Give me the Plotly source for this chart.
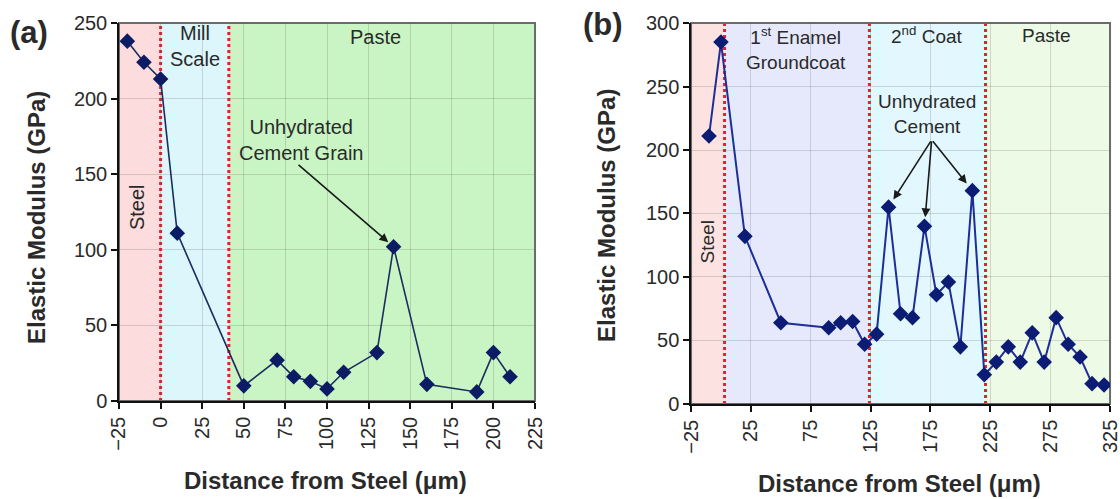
import plotly.graph_objects as go

# Panel (a): plain steel in paste
dist_a = [-20, -10, 0, 10, 50, 70, 80, 90, 100, 110, 130, 140, 160, 190, 200, 210]
mod_a = [238, 224, 213, 111, 10, 27, 16, 13, 8, 19, 32, 102, 11, 6, 32, 16]
bounds_a = [-25, 0, 41, 225]          # steel | mill scale | paste
colors_a = ["#fcdcdc", "#dcf6fc", "#c8f5c3"]
ticks_a = [-25, 0, 25, 50, 75, 100, 125, 150, 175, 200, 225]
peak_a = 11                            # index of the unhydrated grain

# Panel (b): enamel-coated steel in paste
dist_b = [-10, 0, 20, 50, 90, 100, 110, 120, 130, 140, 150, 160, 170, 180, 190,
          200, 210, 220, 230, 240, 250, 260, 270, 280, 290, 300, 310, 320]
mod_b = [211, 285, 132, 64, 60, 64, 65, 47, 55, 155, 71, 68, 140, 86, 96,
         45, 168, 23, 33, 45, 33, 56, 33, 68, 47, 37, 16, 15]
bounds_b = [-25, 3, 124, 221, 325]     # steel | groundcoat | 2nd coat | paste
colors_b = ["#fde2e2", "#e6e9fc", "#e2f8fe", "#ecfae6"]
ticks_b = [-25, 25, 75, 125, 175, 225, 275, 325]
peaks_b = [9, 12, 16]                  # indices of unhydrated cement hits

FONT = "Liberation Sans, Arial, sans-serif"
TXT = "#2a2a2a"

fig = go.Figure()

fig.add_trace(go.Scatter(
    x=dist_a, y=mod_a, mode="lines+markers", xaxis="x", yaxis="y",
    line=dict(color="#1c2c5c", width=1.6),
    marker=dict(symbol="diamond", size=12, color="#0c1c64"),
    showlegend=False, hoverinfo="x+y"))

fig.add_trace(go.Scatter(
    x=dist_b, y=mod_b, mode="lines+markers", xaxis="x2", yaxis="y2",
    line=dict(color="#1e2e98", width=2),
    marker=dict(symbol="diamond", size=12, color="#0c1c74"),
    showlegend=False, hoverinfo="x+y"))

shapes = []


def add_regions(xref, yref, bounds, colors):
    for i, c in enumerate(colors):
        shapes.append(dict(type="rect", xref=xref, yref=yref + " domain",
                           x0=bounds[i], x1=bounds[i + 1], y0=0, y1=1,
                           fillcolor=c, line=dict(width=0), layer="below"))
    for b in bounds[1:-1]:
        shapes.append(dict(type="line", xref=xref, yref=yref + " domain",
                           x0=b, x1=b, y0=0, y1=1, layer="below",
                           line=dict(color="#e3202c", width=3, dash="dot")))
    shapes.append(dict(type="rect", xref=xref + " domain", yref=yref + " domain",
                       x0=0, x1=1, y0=0, y1=1, layer="below",
                       line=dict(color="#6a6a6a", width=2)))


add_regions("x", "y", bounds_a, colors_a)
add_regions("x2", "y2", bounds_b, colors_b)

ax_common = dict(
    showline=True, linecolor="#111111", linewidth=1.5,
    ticks="outside", ticklen=6, tickcolor="#111111", tickwidth=1.5,
    showgrid=True, gridcolor="rgba(90,90,90,0.22)", gridwidth=1,
    zeroline=False, automargin=False, ticklabeloverflow="allow",
    tickfont=dict(family=FONT, size=20, color=TXT),
)

fig.update_layout(
    width=1120, height=499,
    margin=dict(l=0, r=0, t=0, b=0, autoexpand=False),
    paper_bgcolor="white", plot_bgcolor="white",
    xaxis=dict(domain=[0.10625, 0.4777], range=[-25, 225], tickmode="array",
               tickvals=ticks_a, tickangle=-90, anchor="y", **ax_common),
    yaxis=dict(domain=[0.1964, 0.9539], range=[0, 250], dtick=50,
               anchor="x", **ax_common),
    xaxis2=dict(domain=[0.6170, 0.9911], range=[-25, 325], tickmode="array",
                tickvals=ticks_b, tickangle=-90, anchor="y2", **ax_common),
    yaxis2=dict(domain=[0.1904, 0.9539], range=[0, 300], dtick=50,
                anchor="x2", **ax_common),
    shapes=shapes,
)

ann = []


def label(text, x, y, xref, yref, size=20, angle=0, bold=False):
    ann.append(dict(text=f"<b>{text}</b>" if bold else text, x=x, y=y,
                    xref=xref, yref=yref, showarrow=False, textangle=angle,
                    xanchor="center", yanchor="middle",
                    font=dict(family=FONT, size=size, color=TXT)))


def arrow(x, y, xref, yref, tail_x, tail_y, standoff):
    ann.append(dict(x=x, y=y, xref=xref, yref=yref, ax=tail_x, ay=tail_y,
                    axref=xref, ayref=yref, text="", showarrow=True,
                    arrowhead=2, arrowsize=1.1, arrowwidth=1.6,
                    arrowcolor="#1a1a1a", standoff=standoff))


# region labels, panel (a)
label("Mill<br>Scale", 20.4, 235, "x", "y")
label("Paste", 129, 241, "x", "y")
label("Steel", -13.8, 128, "x", "y", angle=-90)
label("Unhydrated<br>Cement Grain", 84.7, 172.6, "x", "y")
arrow(dist_a[peak_a], mod_a[peak_a], "x", "y", 82, 157, 7)

# region labels, panel (b)
label("1<sup>st</sup> Enamel<br>Groundcoat", 63, 280, "x2", "y2", size=19)
label("2<sup>nd</sup> Coat", 172.5, 290.5, "x2", "y2", size=19)
label("Paste", 271.7, 290.5, "x2", "y2", size=19)
label("Steel", -11.7, 128, "x2", "y2", size=19, angle=-90)
label("Unhydrated<br>Cement", 172, 228, "x2", "y2", size=19)
for i in peaks_b:
    arrow(dist_b[i], mod_b[i], "x2", "y2", 176, 208, 9)

# axis titles and panel letters
label("Distance from Steel (μm)", 0.291, 0.038, "paper", "paper", size=24, bold=True)
label("Distance from Steel (μm)", 0.8027, 0.032, "paper", "paper", size=24, bold=True)
label("Elastic Modulus (GPa)", 0.0321, 0.565, "paper", "paper", size=24, angle=-90, bold=True)
label("Elastic Modulus (GPa)", 0.541, 0.569, "paper", "paper", size=24, angle=-90, bold=True)
label("(a)", 0.0259, 0.935, "paper", "paper", size=31, bold=True)
label("(b)", 0.538, 0.95, "paper", "paper", size=31, bold=True)

fig.update_layout(annotations=ann)
fig.write_html("out.html")
